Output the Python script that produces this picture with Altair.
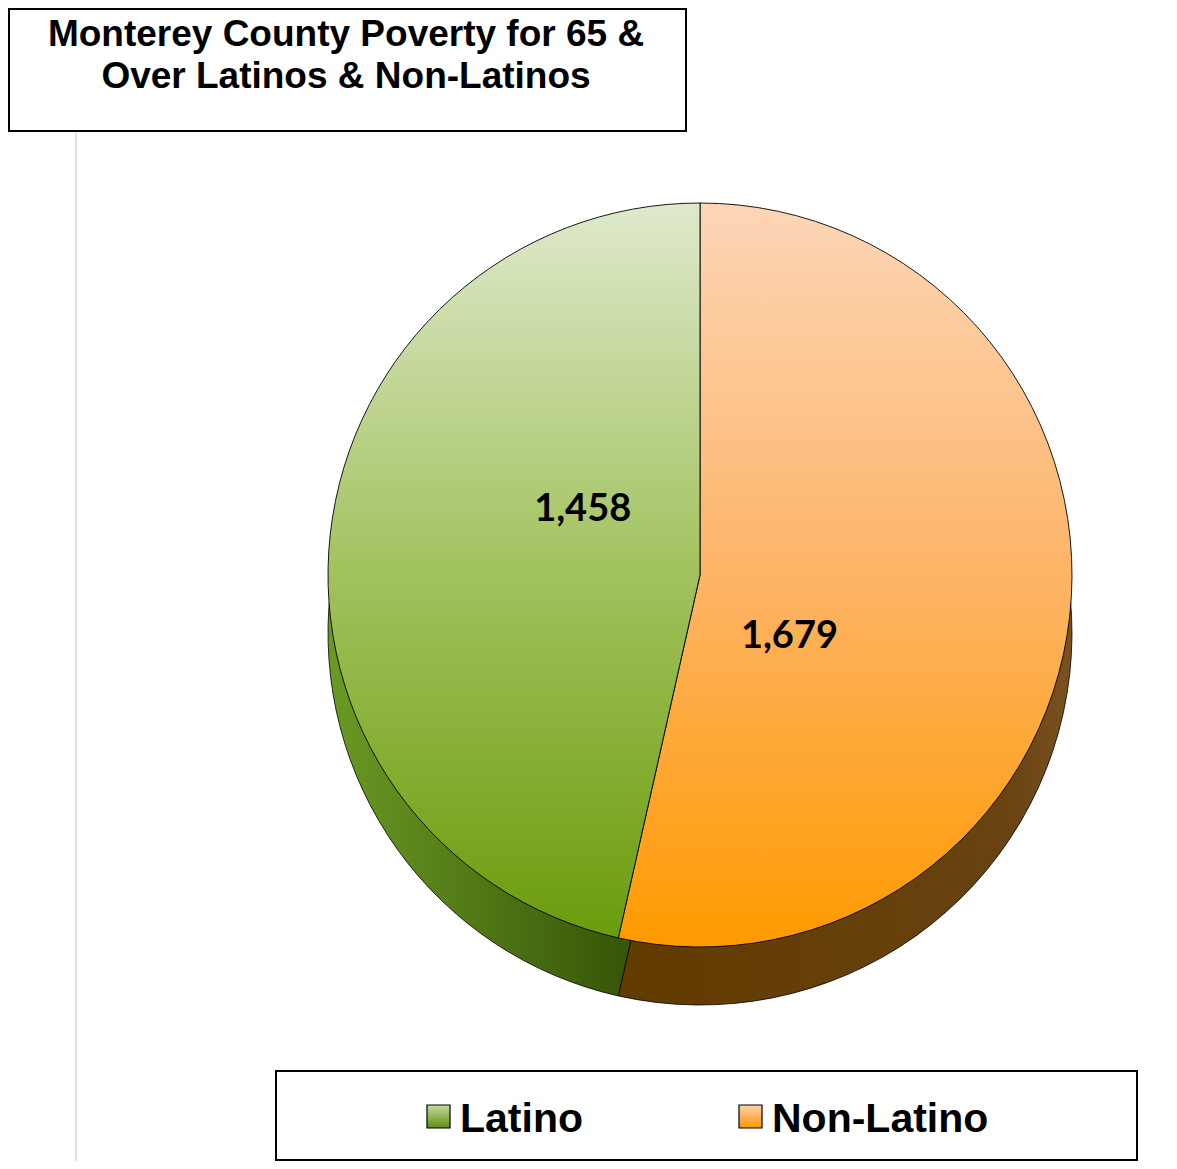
import altair as alt
import pandas as pd

# ---- data ----
categories = ["Non-Latino", "Latino"]
values = [1679, 1458]
value_labels = ["1,679", "1,458"]
title_lines = ["Monterey County Poverty for 65 &", "Over Latinos & Non-Latinos"]
legend_order = ["Latino", "Non-Latino"]

pie_df = pd.DataFrame({"category": categories, "value": values,
                       "label": value_labels, "ord": list(range(len(categories)))})

W, H = 1161, 1153
CX, CY, R, DEPTH = 692, 567, 372, 58


def grad(stops, vertical=True):
    g = {"gradient": "linear", "x1": 0, "y1": 0,
         "x2": 0 if vertical else 1, "y2": 1 if vertical else 0,
         "stops": [{"offset": o, "color": c} for o, c in stops]}
    return g


top_fill = {
    "Latino": grad([(0, "#dfe9cc"), (0.5, "#a2c25e"), (1, "#6a9c0c")]),
    "Non-Latino": grad([(0, "#fcd6b8"), (0.5, "#fdb466"), (1, "#ff9a00")]),
}
side_fill = {
    "Latino": grad([(0, "#6a9a24"), (1, "#2a4500")], vertical=False),
    "Non-Latino": grad([(0, "#623b00"), (0.85, "#684210"), (1, "#7a5222")], vertical=False),
}

base = alt.Chart(pie_df).transform_joinaggregate(
    total="sum(value)"
).transform_window(
    cum="sum(value)", sort=[alt.SortField("ord")], frame=[None, 0]
).transform_calculate(
    start="(datum.cum - datum.value) / datum.total * 2 * PI",
    end="datum.cum / datum.total * 2 * PI",
    mid="(datum.cum - datum.value / 2) / datum.total * 2 * PI",
)

layers = []
# side (depth) of the pie
for cat in categories:
    layers.append(
        base.transform_filter(alt.datum.category == cat).mark_arc(
            fill=side_fill[cat], stroke="#000000", strokeWidth=0.8,
            outerRadius=R
        ).encode(
            theta=alt.Theta("start:Q", scale=None),
            theta2="end:Q",
            x=alt.value(CX), y=alt.value(CY + DEPTH),
        )
    )
# top face
for cat in categories:
    layers.append(
        base.transform_filter(alt.datum.category == cat).mark_arc(
            fill=top_fill[cat], stroke="#000000", strokeWidth=0.9,
            outerRadius=R
        ).encode(
            theta=alt.Theta("start:Q", scale=None),
            theta2="end:Q",
            x=alt.value(CX), y=alt.value(CY),
        )
    )
# value labels
label_style = {"Latino": (118, -52), "Non-Latino": (90, 52)}
for cat in categories:
    rad, dy = label_style[cat]
    layers.append(
        base.transform_filter(alt.datum.category == cat).mark_text(
            font="Lato", fontWeight="bold", fontSize=38, color="#000000",
            align="center", baseline="middle", dy=dy
        ).encode(
            theta=alt.Theta("mid:Q", scale=None),
            radius=alt.value(rad),
            x=alt.value(CX), y=alt.value(CY),
            text="label:N",
        )
    )

# thin vertical guide line on the left
deco = alt.Chart(pd.DataFrame({"k": [0]}))
layers.append(
    deco.mark_rule(color="#c8c8c8", strokeWidth=1).encode(
        x=alt.value(68), y=alt.value(123), y2=alt.value(H)
    )
)

# title box
layers.append(
    deco.mark_rect(fill="#ffffff", stroke="#000000", strokeWidth=2).encode(
        x=alt.value(1), x2=alt.value(678), y=alt.value(1), y2=alt.value(123)
    )
)
title_df = pd.DataFrame({"line": title_lines, "i": list(range(len(title_lines)))})
for i, _ in enumerate(title_lines):
    layers.append(
        alt.Chart(title_df).transform_filter(alt.datum.i == i).mark_text(
            font="Liberation Sans", fontWeight="bold", fontSize=37,
            align="center", baseline="alphabetic", color="#000000"
        ).encode(
            x=alt.value(338), y=alt.value(38 + 42 * i), text="line:N"
        )
    )

# legend box
layers.append(
    deco.mark_rect(fill="#ffffff", stroke="#000000", strokeWidth=2).encode(
        x=alt.value(268), x2=alt.value(1129), y=alt.value(1063), y2=alt.value(1152)
    )
)
leg_df = pd.DataFrame({"category": legend_order})
leg_x = {"Latino": 419, "Non-Latino": 731}
for cat in legend_order:
    cat_grad = grad([(0, "#c6dca0"), (1, "#5f9010")]) if cat == "Latino" else grad([(0, "#fdd2ae"), (1, "#ff9600")])
    layers.append(
        alt.Chart(leg_df).transform_filter(alt.datum.category == cat).mark_rect(
            fill=cat_grad, stroke="#000000", strokeWidth=1.2
        ).encode(
            x=alt.value(leg_x[cat]), x2=alt.value(leg_x[cat] + 23),
            y=alt.value(1097), y2=alt.value(1120)
        )
    )
    layers.append(
        alt.Chart(leg_df).transform_filter(alt.datum.category == cat).mark_text(
            font="Liberation Sans", fontWeight="bold", fontSize=41,
            align="left", baseline="alphabetic", color="#000000"
        ).encode(
            x=alt.value(leg_x[cat] + 33), y=alt.value(1124), text="category:N"
        )
    )

chart = alt.layer(*layers).properties(
    width=W, height=H, padding=0,
    autosize=alt.AutoSizeParams(type="none")
).configure_view(stroke=None)

chart.save("out.html", embed_options={"renderer": "svg", "actions": False})
